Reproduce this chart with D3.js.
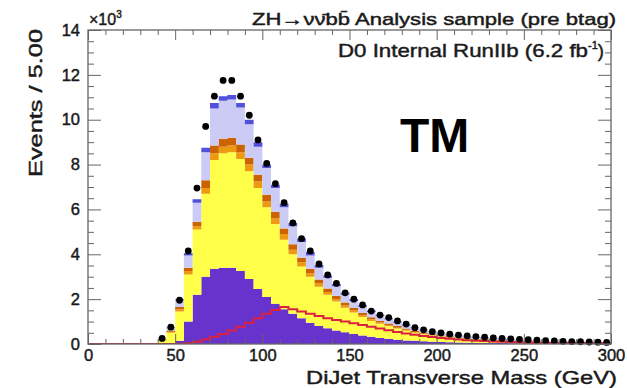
<!DOCTYPE html>
<html>
<head>
<meta charset="utf-8">
<script src="https://cdn.jsdelivr.net/npm/d3@7"></script>
<style>
  body { margin: 0; background: #fff; }
  svg { display: block; }
  text { font-family: "Liberation Sans", Arial, Helvetica, sans-serif; }
  .heavy { stroke: #1a1a1a; stroke-width: 0.45px; }
</style>
</head>
<body>
<svg id="chart" width="627" height="388"></svg>
<script>
// bins of 5 GeV from 0 to 300, values in thousands of events
const binWidth = 5;
const binLow = d3.range(0, 300, binWidth);

const dataCounts = [0, 0, 0, 0, 0, 0, 0, 0,
  0.25, 0.75, 1.95, 4.15, 6.95, 9.7, 11.05, 11.75, 11.75, 11.05, 10.2, 9.1, 8.05, 7.15, 6.3, 5.4,
  4.7, 4.15, 3.57, 3.08, 2.7, 2.28, 2.0, 1.74, 1.47, 1.29, 1.18, 1.03, 0.89, 0.73, 0.63, 0.55,
  0.49, 0.44, 0.4, 0.36, 0.33, 0.3, 0.27, 0.25, 0.23, 0.21, 0.19, 0.17, 0.15, 0.14, 0.12, 0.11,
  0.1, 0.09, 0.08, 0.07];

const purpleBkg = [0, 0, 0, 0, 0, 0, 0, 0,
  0.02, 0.05, 0.15, 1.0, 2.2, 3.0, 3.35, 3.4, 3.4, 3.25, 2.9, 2.45, 2.1, 1.8, 1.55, 1.35,
  1.15, 0.95, 0.8, 0.7, 0.6, 0.52, 0.45, 0.38, 0.32, 0.27, 0.23, 0.19, 0.16, 0.14, 0.12, 0.1,
  0.09, 0.08, 0.07, 0.06, 0.05, 0.05, 0.04, 0.04, 0.03, 0.03, 0.03, 0.02, 0.02, 0.02, 0.02, 0.01,
  0.01, 0.01, 0.01, 0.01];

const yellowBkg = [0, 0, 0, 0, 0, 0, 0, 0,
  0.13, 0.45, 1.3, 2.1, 2.9, 3.7, 4.85, 5.1, 5.15, 5.0, 4.8, 4.5, 4.0, 3.55, 3.1, 2.65,
  2.3, 2.05, 1.75, 1.5, 1.3, 1.1, 0.95, 0.82, 0.71, 0.63, 0.56, 0.5, 0.43, 0.36, 0.31, 0.27,
  0.24, 0.21, 0.19, 0.17, 0.14, 0.13, 0.11, 0.1, 0.09, 0.08, 0.08, 0.07, 0.06, 0.05, 0.05, 0.05,
  0.04, 0.04, 0.03, 0.03];

const orangeBkg = [0, 0, 0, 0, 0, 0, 0, 0,
  0.03, 0.05, 0.1, 0.15, 0.15, 0.25, 0.3, 0.3, 0.3, 0.3, 0.3, 0.3, 0.25, 0.25, 0.25, 0.2,
  0.2, 0.15, 0.15, 0.12, 0.1, 0.1, 0.1, 0.08, 0.07, 0.06, 0.05, 0.04, 0.04, 0.04, 0.03, 0.03,
  0.03, 0.02, 0.02, 0.02, 0.02, 0.02, 0.02, 0.02, 0.01, 0.01, 0.01, 0.01, 0.01, 0.01, 0.01, 0.01,
  0.01, 0.01, 0.01, 0.01];

const darkOrangeBkg = [0, 0, 0, 0, 0, 0, 0, 0,
  0.02, 0.05, 0.1, 0.15, 0.2, 0.35, 0.35, 0.35, 0.35, 0.35, 0.3, 0.3, 0.3, 0.3, 0.25, 0.25,
  0.2, 0.2, 0.18, 0.16, 0.15, 0.13, 0.1, 0.1, 0.09, 0.08, 0.07, 0.07, 0.06, 0.05, 0.05, 0.04,
  0.03, 0.03, 0.02, 0.02, 0.02, 0.02, 0.02, 0.02, 0.02, 0.02, 0.01, 0.01, 0.01, 0.01, 0.01, 0.01,
  0.01, 0.01, 0.01, 0.01];

const lavenderBkg = [0, 0, 0, 0, 0, 0, 0, 0,
  0.04, 0.12, 0.3, 0.55, 0.85, 1.25, 1.65, 1.7, 1.7, 1.65, 1.5, 1.25, 1.2, 1.05, 0.95, 0.8,
  0.7, 0.6, 0.52, 0.47, 0.42, 0.35, 0.32, 0.28, 0.24, 0.21, 0.19, 0.16, 0.14, 0.12, 0.1, 0.09,
  0.08, 0.08, 0.07, 0.06, 0.06, 0.05, 0.05, 0.04, 0.04, 0.03, 0.03, 0.03, 0.02, 0.02, 0.02, 0.02,
  0.02, 0.02, 0.02, 0.02];

const blueBkg = [0, 0, 0, 0, 0, 0, 0, 0,
  0.01, 0.03, 0.05, 0.1, 0.15, 0.2, 0.25, 0.2, 0.2, 0.2, 0.2, 0.2, 0.15, 0.15, 0.15, 0.15,
  0.15, 0.15, 0.12, 0.1, 0.1, 0.08, 0.08, 0.07, 0.06, 0.05, 0.05, 0.04, 0.04, 0.03, 0.03, 0.03,
  0.03, 0.02, 0.02, 0.02, 0.02, 0.02, 0.02, 0.02, 0.02, 0.02, 0.02, 0.01, 0.01, 0.01, 0.01, 0.01,
  0.01, 0.01, 0.01, 0.01];

const redLine = [0, 0, 0, 0, 0, 0, 0, 0, 0, 0, 0,
  0.03, 0.1, 0.2, 0.32, 0.45, 0.6, 0.77, 0.95, 1.15, 1.35, 1.52, 1.65, 1.55, 1.45, 1.35,
  1.25, 1.15, 1.07, 1.0, 0.93, 0.85, 0.77, 0.69, 0.61, 0.54, 0.47, 0.41, 0.36, 0.31, 0.27,
  0.23, 0.2, 0.17, 0.15, 0.13, 0.11, 0.1, 0.09, 0.08, 0.07, 0.06, 0.05, 0.05, 0.04, 0.04,
  0.04, 0.03, 0.03, 0.03];

const yMajorTicks = [0, 2, 4, 6, 8, 10, 12, 14];
const xMajorTicks = [0, 50, 100, 150, 200, 250, 300];

const layers = [
  { key: 'purple', color: '#6633cc', values: purpleBkg },
  { key: 'yellow', color: '#ffff4a', values: yellowBkg },
  { key: 'orange', color: '#ee9a10', values: orangeBkg },
  { key: 'darkOrange', color: '#cc6200', values: darkOrangeBkg },
  { key: 'lavender', color: '#cbcbf6', values: lavenderBkg },
  { key: 'blue', color: '#5050dc', values: blueBkg }
];

const svg = d3.select('#chart');
const x = d3.scaleLinear().domain([0, 300]).range([88, 611]);
const y = d3.scaleLinear().domain([0, 14]).range([344, 30]);

// stacked background
const table = binLow.map((lo, i) => {
  const row = { lo: lo };
  layers.forEach(l => { row[l.key] = l.values[i]; });
  return row;
});
const stacked = d3.stack().keys(layers.map(l => l.key))(table);

svg.append('clipPath').attr('id', 'frame')
  .append('rect').attr('x', x(0)).attr('y', y(14)).attr('width', x(300) - x(0)).attr('height', y(0) - y(14));

const plot = svg.append('g').attr('clip-path', 'url(#frame)');

const area = d3.area()
  .curve(d3.curveStepAfter)
  .x(d => x(d.lo))
  .y0(d => y(d.y0))
  .y1(d => y(d.y1));

stacked.forEach((s, idx) => {
  let pts = s.map((d, i) => ({ lo: binLow[i], y0: d[0], y1: d[1] }));
  pts.push({ lo: 300, y0: pts[pts.length - 1].y0, y1: pts[pts.length - 1].y1 });
  plot.append('path')
    .attr('d', area(pts))
    .attr('fill', layers[idx].color);
});

// red histogram line
let redPts = redLine.map((v, i) => ({ lo: binLow[i], v: v }));
redPts.push({ lo: 300, v: redLine[redLine.length - 1] });
plot.append('path')
  .attr('d', d3.line().curve(d3.curveStepAfter).x(d => x(d.lo)).y(d => y(d.v))(redPts))
  .attr('fill', 'none')
  .attr('stroke', '#dd2040')
  .attr('stroke-width', 2);

// data points
svg.append('g').selectAll('circle')
  .data(binLow.map((lo, i) => ({ c: lo + binWidth / 2, v: dataCounts[i] })).filter(d => d.v > 0))
  .join('circle')
  .attr('cx', d => x(d.c))
  .attr('cy', d => y(d.v))
  .attr('r', 3.4)
  .attr('fill', '#000');

// axes, ROOT style with inward ticks
const axisColor = '#666';
const yMinor = d3.range(0, 14.01, 0.5).filter(v => v % 2 !== 0);
const xMinor = d3.range(0, 301, 10).filter(v => v % 50 !== 0);

function styleAxis(g) {
  g.select('.domain').remove();
  g.selectAll('line').attr('stroke', axisColor);
  g.selectAll('text')
    .attr('class', 'heavy')
    .attr('font-size', 16.5)
    .attr('fill', '#1a1a1a')
    .attr('font-family', '"Liberation Sans", Arial, sans-serif');
}

svg.append('g').attr('transform', `translate(${x(0)},0)`)
  .call(d3.axisLeft(y).tickValues(yMajorTicks).tickSizeInner(-13).tickSizeOuter(0).tickPadding(8))
  .call(styleAxis);
svg.append('g').attr('transform', `translate(${x(0)},0)`)
  .call(d3.axisLeft(y).tickValues(yMinor).tickSize(-6).tickFormat(''))
  .call(styleAxis);
svg.append('g').attr('transform', `translate(${x(300)},0)`)
  .call(d3.axisRight(y).tickValues(yMajorTicks).tickSize(-13).tickFormat(''))
  .call(styleAxis);
svg.append('g').attr('transform', `translate(${x(300)},0)`)
  .call(d3.axisRight(y).tickValues(yMinor).tickSize(-6).tickFormat(''))
  .call(styleAxis);

svg.append('g').attr('transform', `translate(0,${y(0)})`)
  .call(d3.axisBottom(x).tickValues(xMajorTicks).tickSizeInner(-10).tickSizeOuter(0).tickPadding(5))
  .call(styleAxis);
svg.append('g').attr('transform', `translate(0,${y(0)})`)
  .call(d3.axisBottom(x).tickValues(xMinor).tickSize(-5).tickFormat(''))
  .call(styleAxis);
svg.append('g').attr('transform', `translate(0,${y(14)})`)
  .call(d3.axisTop(x).tickValues(xMajorTicks).tickSize(-10).tickFormat(''))
  .call(styleAxis);
svg.append('g').attr('transform', `translate(0,${y(14)})`)
  .call(d3.axisTop(x).tickValues(xMinor).tickSize(-5).tickFormat(''))
  .call(styleAxis);

// frame
svg.append('rect')
  .attr('x', x(0)).attr('y', y(14))
  .attr('width', x(300) - x(0)).attr('height', y(0) - y(14))
  .attr('fill', 'none')
  .attr('stroke', axisColor)
  .attr('stroke-width', 1.3);

// texts
svg.append('text')
  .attr('class', 'heavy')
  .attr('x', 252).attr('y', 25)
  .attr('font-size', 17).attr('fill', '#1a1a1a')
  .attr('textLength', 364).attr('lengthAdjust', 'spacingAndGlyphs')
  .text('ZH\u2192\u03bd\u03bd\u0304b\u0062\u0304 Analysis sample (pre btag)');

const mult = svg.append('text')
  .attr('class', 'heavy')
  .attr('x', 89).attr('y', 25)
  .attr('font-size', 16).attr('fill', '#1a1a1a');
mult.append('tspan').text('\u00d710');
mult.append('tspan').attr('font-size', 10).attr('dy', -7).text('3');

const lumi = svg.append('text')
  .attr('class', 'heavy')
  .attr('x', 338).attr('y', 57)
  .attr('font-size', 18.5).attr('fill', '#1a1a1a');
lumi.append('tspan')
  .attr('textLength', 250).attr('lengthAdjust', 'spacingAndGlyphs')
  .text('D0 Internal RunIIb (6.2 fb');
lumi.append('tspan').attr('font-size', 11).attr('dy', -8).text('-1');
lumi.append('tspan').attr('dy', 8).text(')');

svg.append('text')
  .attr('x', 400).attr('y', 152)
  .attr('font-size', 48).attr('font-weight', 'bold').attr('fill', '#000')
  .text('TM');

svg.append('text')
  .attr('class', 'heavy')
  .attr('transform', 'translate(42,103) rotate(-90)')
  .attr('text-anchor', 'middle')
  .attr('font-size', 18).attr('fill', '#1a1a1a')
  .attr('textLength', 148).attr('lengthAdjust', 'spacingAndGlyphs')
  .text('Events / 5.00');

svg.append('text')
  .attr('class', 'heavy')
  .attr('x', 306).attr('y', 384)
  .attr('font-size', 19).attr('fill', '#1a1a1a')
  .attr('textLength', 311).attr('lengthAdjust', 'spacingAndGlyphs')
  .text('DiJet Transverse Mass (GeV)');
</script>
</body>
</html>
